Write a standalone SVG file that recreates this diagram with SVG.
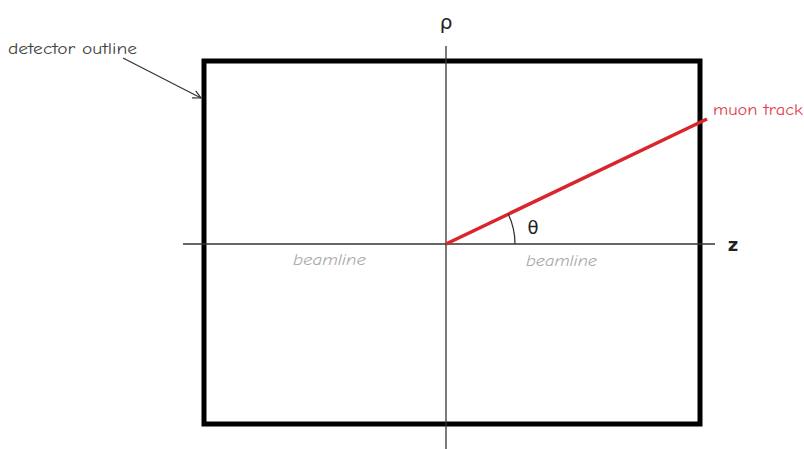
<svg xmlns="http://www.w3.org/2000/svg" width="804" height="449" viewBox="0 0 804 449">
<style>
.lbl{font-family:"Comic Neue","DejaVu Sans","Liberation Sans",sans-serif;font-size:16px;font-weight:normal}
.axis{stroke:#333;stroke-width:1.3;fill:none}
.beam{font-family:"Comic Neue","DejaVu Sans","Liberation Sans",sans-serif;font-style:italic;font-size:16px;fill:#a8a8a8}
.sym{font-family:"DejaVu Sans","Liberation Sans",sans-serif;fill:#222}
</style>
<defs>
<marker id="arr" markerWidth="10" markerHeight="10" refX="9" refY="5" orient="auto" markerUnits="userSpaceOnUse">
<path d="M1,1 L9,5 L1,9" fill="none" stroke="#333" stroke-width="1.2"/>
</marker>
</defs>
<rect width="804" height="449" fill="#fff"/>
<g id="detector">
<rect x="204" y="61" width="496" height="363" fill="none" stroke="#000" stroke-width="5"/>
</g>
<g id="axes">
<line class="axis" x1="446" y1="46" x2="446" y2="449"/>
<line class="axis" x1="183" y1="244" x2="715" y2="244"/>
<text class="sym" x="446" y="29" font-size="20" text-anchor="middle">ρ</text>
<text class="sym" x="733" y="251" font-size="18" font-weight="bold" text-anchor="middle">z</text>
<text class="beam" x="293" y="265" textLength="73" lengthAdjust="spacingAndGlyphs">beamline</text>
<text class="beam" x="526" y="266" textLength="71" lengthAdjust="spacingAndGlyphs">beamline</text>
</g>
<g id="track">
<line x1="446" y1="244" x2="707" y2="119" stroke="#d9262c" stroke-width="3.5"/>
<path d="M515,244 A69,69 0 0 0 508.2,214" fill="none" stroke="#333" stroke-width="1.3"/>
<text class="sym" x="533" y="234" font-size="18" text-anchor="middle">θ</text>
<text class="lbl" x="713" y="115" fill="#e0404c" textLength="90" lengthAdjust="spacingAndGlyphs">muon track</text>
</g>
<g id="connectors">
<line x1="123" y1="58" x2="201" y2="98" stroke="#333" stroke-width="1.2" marker-end="url(#arr)"/>
</g>
<g id="label-detector">
<text class="lbl" x="8" y="54" fill="#444" textLength="129" lengthAdjust="spacingAndGlyphs">detector outline</text>
</g>
</svg>
